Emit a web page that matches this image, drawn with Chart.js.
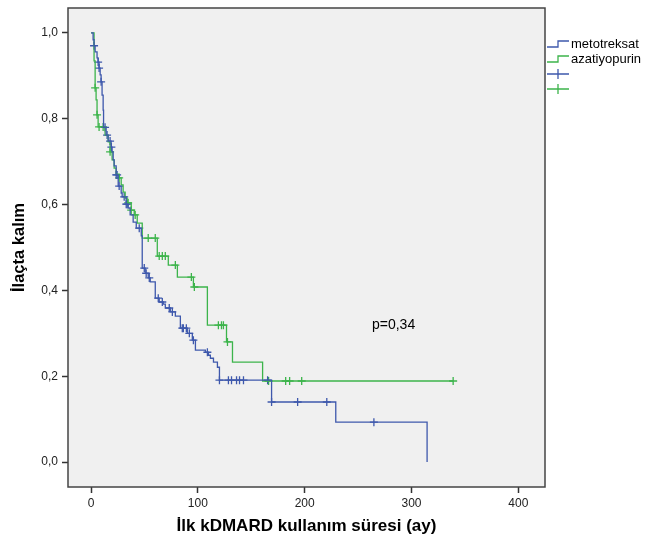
<!DOCTYPE html>
<html>
<head>
<meta charset="utf-8">
<title>İlaçta kalım</title>
<script src="https://cdn.jsdelivr.net/npm/chart.js@4.4.1/dist/chart.umd.min.js"></script>
<style>
  html, body { margin: 0; padding: 0; background: #fff; }
  #kapsayici { width: 652px; height: 541px; }
</style>
</head>
<body>
<div id="kapsayici"><canvas id="kaplanMeier"></canvas></div>
<script>
// metotreksat - basamak zamanlari (ay) ve sagkalim oranlari
var mtxZaman = [0, 1.9, 2.8, 3.8, 5.6, 6.6, 7.5, 8.5, 9.4, 10.3, 11.3, 11.7, 14.1, 16, 18.8, 19.7, 20.7, 21.6, 23.5, 25.4, 28.2, 29.1, 32.9, 34.7, 36.6, 39.4, 42.3, 47, 47.9, 50.7, 53.5, 55.4, 60.1, 63.8, 67.6, 69.5, 74.2, 78.9, 83.6, 90.1, 94.8, 97.7, 107, 109.9, 111.7, 114.6, 118.3, 120.2, 169, 229.1, 314.6];
var mtxSagkalim = [1, 0.984, 0.97, 0.956, 0.942, 0.932, 0.918, 0.902, 0.886, 0.855, 0.82, 0.78, 0.762, 0.748, 0.734, 0.723, 0.704, 0.69, 0.669, 0.643, 0.627, 0.618, 0.601, 0.592, 0.576, 0.559, 0.545, 0.527, 0.452, 0.44, 0.429, 0.42, 0.382, 0.373, 0.368, 0.359, 0.35, 0.34, 0.312, 0.3, 0.284, 0.261, 0.256, 0.249, 0.242, 0.233, 0.221, 0.191, 0.14, 0.093, 0];
var mtxSansur = [2.8, 6.6, 7.5, 9.4, 13.1, 15, 17.8, 19, 23.5, 24.4, 26.3, 31, 32.9, 33.8, 45.1, 49.8, 51.6, 54.5, 62.9, 66.7, 73.2, 76.1, 85.4, 86.4, 89.2, 92, 95.8, 108.9, 120.2, 128.6, 131.5, 136.2, 139, 142.7, 165.3, 169, 193.4, 220.7, 264.8];

// azatiyopurin
var azaZaman = [0, 2.8, 3.8, 4.7, 5.6, 6.6, 13.1, 16, 17.8, 19.7, 21.6, 23.5, 26.3, 28.2, 30, 31.9, 33.8, 37.6, 40.4, 43.2, 47.9, 62, 72.3, 80.8, 95.8, 108.9, 126.8, 132.4, 160.6, 339];
var azaSagkalim = [1, 0.935, 0.872, 0.844, 0.809, 0.781, 0.762, 0.746, 0.723, 0.704, 0.685, 0.671, 0.662, 0.646, 0.629, 0.615, 0.604, 0.587, 0.576, 0.557, 0.522, 0.48, 0.459, 0.431, 0.408, 0.319, 0.28, 0.233, 0.189, 0.189];
var azaSansur = [3.8, 5.6, 7.5, 11.3, 17.8, 26.3, 34.7, 37.6, 41.3, 53.5, 60.1, 63.8, 66.7, 69.5, 78.9, 93.9, 96.7, 119.2, 122.1, 123.9, 127.7, 166.2, 182.2, 185.9, 197.2, 339];

var seriAdlari = ["metotreksat", "azatiyopurin"];
var seriRenkleri = ["#3e58ac", "#3cb44b"];
var xTicks = [0, 100, 200, 300, 400];
var yTicks = [0, 0.2, 0.4, 0.6, 0.8, 1.0];
var pDegeri = "p=0,34";

var yazi = "'Liberation Sans', Arial, sans-serif";

function basamakVerisi(zaman, oran) {
    return zaman.map(function (t, i) { return { x: t, y: oran[i] }; });
}

// sansur isaretinin y degeri: egrinin o andaki degeri
function oranBul(zaman, oran, t) {
    var s = oran[0];
    for (var i = 0; i < zaman.length; i++) {
        if (zaman[i] <= t + 1e-9) s = oran[i];
    }
    return s;
}

function sansurVerisi(sansur, zaman, oran) {
    return sansur.map(function (t) { return { x: t, y: oranBul(zaman, oran, t) }; });
}

function egri(ad, renk, zaman, oran) {
    return {
        label: ad,
        data: basamakVerisi(zaman, oran),
        borderColor: renk,
        borderWidth: 1.3,
        stepped: true,
        pointRadius: 0,
        fill: false
    };
}

function sansurSeti(ad, renk, sansur, zaman, oran) {
    return {
        label: ad + " sansür",
        data: sansurVerisi(sansur, zaman, oran),
        showLine: false,
        pointStyle: "cross",
        pointRadius: 4,
        pointBorderWidth: 1.3,
        borderColor: renk,
        backgroundColor: renk
    };
}

// gri cizim alani ve cerceve
var cerceve = {
    id: "cerceve",
    beforeDraw: function (chart) {
        var c = chart.ctx, a = chart.chartArea;
        c.save();
        c.fillStyle = "#f0f0f0";
        c.fillRect(a.left, a.top, a.right - a.left, a.bottom - a.top);
        c.restore();
    },
    afterDraw: function (chart) {
        var c = chart.ctx, a = chart.chartArea;
        c.save();
        c.strokeStyle = "#444";
        c.lineWidth = 1.5;
        c.strokeRect(a.left, a.top, a.right - a.left, a.bottom - a.top);

        // p degeri
        var xs = chart.scales.x, ys = chart.scales.y;
        c.fillStyle = "#000";
        c.font = "14px " + yazi;
        c.textBaseline = "middle";
        c.textAlign = "left";
        c.fillText(pDegeri, xs.getPixelForValue(263), ys.getPixelForValue(0.32));

        // gosterge (sag tarafta)
        var x0 = a.right + 2, satir = a.top + 36, ara = 15;
        c.font = "13px " + yazi;
        c.lineWidth = 1.3;
        seriAdlari.forEach(function (ad, i) {
            var y = satir + i * ara;
            c.strokeStyle = seriRenkleri[i];
            c.beginPath();
            c.moveTo(x0, y + 3);
            c.lineTo(x0 + 11, y + 3);
            c.lineTo(x0 + 11, y - 3);
            c.lineTo(x0 + 22, y - 3);
            c.stroke();
            c.fillStyle = "#000";
            c.fillText(ad, x0 + 24, y);
        });
        seriAdlari.forEach(function (ad, i) {
            var y = satir + (i + 2) * ara;
            c.strokeStyle = seriRenkleri[i];
            c.beginPath();
            c.moveTo(x0, y);
            c.lineTo(x0 + 22, y);
            c.moveTo(x0 + 11, y - 5);
            c.lineTo(x0 + 11, y + 5);
            c.stroke();
        });
        c.restore();
    }
};

var ctx = document.getElementById("kaplanMeier").getContext("2d");
var grafik = new Chart(ctx, {
    type: "line",
    data: {
        datasets: [
            egri(seriAdlari[0], seriRenkleri[0], mtxZaman, mtxSagkalim),
            egri(seriAdlari[1], seriRenkleri[1], azaZaman, azaSagkalim),
            sansurSeti(seriAdlari[0], seriRenkleri[0], mtxSansur, mtxZaman, mtxSagkalim),
            sansurSeti(seriAdlari[1], seriRenkleri[1], azaSansur, azaZaman, azaSagkalim)
        ]
    },
    options: {
        responsive: true,
        maintainAspectRatio: false,
        animation: false,
        events: [],
        layout: { padding: { top: 8, right: 107, left: 0, bottom: 0 } },
        plugins: {
            legend: { display: false },
            tooltip: { enabled: false }
        },
        scales: {
            x: {
                type: "linear",
                min: -21.6,
                max: 425,
                afterBuildTicks: function (axis) {
                    axis.ticks = xTicks.map(function (v) { return { value: v }; });
                },
                afterFit: function (scale) { scale.height = 54; },
                ticks: {
                    color: "#222",
                    font: { family: yazi, size: 12 },
                    padding: 3,
                    maxRotation: 0
                },
                grid: { drawOnChartArea: false, drawTicks: true, tickLength: 6, tickColor: "#333", tickWidth: 1.5 },
                border: { display: false },
                title: {
                    display: true,
                    text: "İlk kDMARD kullanım süresi (ay)",
                    color: "#000",
                    font: { family: yazi, size: 17, weight: "bold" },
                    padding: { top: 4, bottom: 4 }
                }
            },
            y: {
                type: "linear",
                min: -0.058,
                max: 1.058,
                afterBuildTicks: function (axis) {
                    axis.ticks = yTicks.map(function (v) { return { value: v }; });
                },
                afterFit: function (scale) {
                    scale.width = 68;
                    scale.paddingTop = 0;
                    scale.paddingBottom = 0;
                },
                ticks: {
                    color: "#222",
                    font: { family: yazi, size: 12 },
                    padding: 4,
                    callback: function (v) { return v.toFixed(1).replace(".", ","); }
                },
                grid: { drawOnChartArea: false, drawTicks: true, tickLength: 6, tickColor: "#333", tickWidth: 1.5 },
                border: { display: false },
                title: {
                    display: true,
                    text: "İlaçta kalım",
                    color: "#000",
                    font: { family: yazi, size: 16.5, weight: "bold" },
                    padding: { top: 10, bottom: 10 }
                }
            }
        }
    },
    plugins: [cerceve]
});
</script>
</body>
</html>
